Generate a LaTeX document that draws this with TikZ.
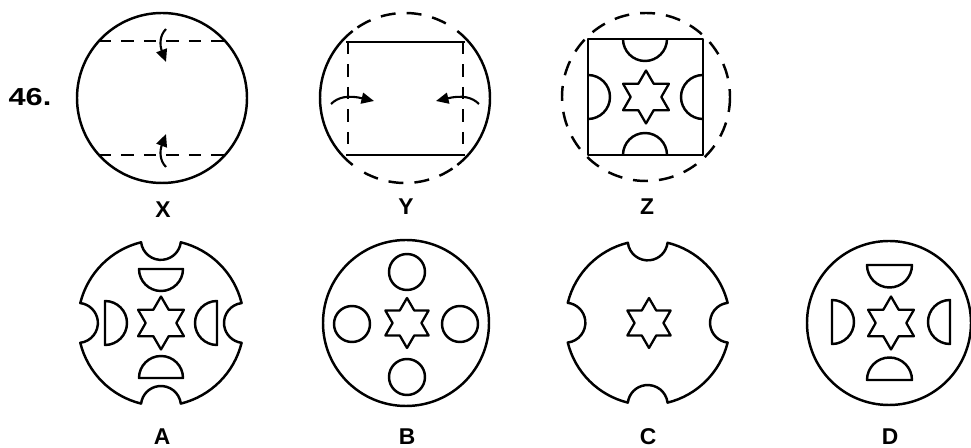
\documentclass[tikz,border=0pt]{standalone}
\usepackage{fontspec}
\setmainfont{Liberation Sans}
\usepackage{graphicx}
\usetikzlibrary{shapes.geometric, arrows.meta}

\begin{document}
\begin{tikzpicture}[
    x=0.02cm, y=-0.02cm,
    line width=1.4pt, line join=round,
    outline/.style={draw=black, line width=1.4pt},
    foldline/.style={line width=1.4pt, dash pattern=on 0.25cm off 0.2cm},
    dashcircle/.style={line width=1.4pt, dash pattern=on 0.3cm off 0.22cm},
    foldarrow/.style={line width=1.2pt, -{Triangle[length=0.25cm, width=0.22cm]}},
    hexstar/.style={draw, star, star points=6, star point ratio=1.73, minimum size=1.06cm, inner sep=0pt, line width=1.3pt},
    tag/.style={font=\fontsize{13}{15}\selectfont\bfseries, inner sep=0pt}
]
    \useasboundingbox (0,0) rectangle (971,448);

    % Question number
    \node (qnum) [tag, font=\fontsize{14}{16}\selectfont\bfseries] at (30,97) {\scalebox{1.25}[1]{46.}};

    % Figure X
    \draw[outline] (162,98) circle[radius=85];
    \draw[foldline] (99,41) -- (225,41);
    \draw[foldline] (99,155) -- (225,155);
    \draw[foldarrow] (166,29) .. controls (159,36) and (160,46) .. (166,62);
    \draw[foldarrow] (166,167) .. controls (159,160) and (160,150) .. (166,134);
    \node (labX) [tag] at (163,210) {X};

    % Figure Y
    \draw[outline] (405,98) ++(128:85) arc[start angle=128, end angle=232, radius=85];
    \draw[outline] (405,98) ++(-52:85) arc[start angle=-52, end angle=52, radius=85];
    \draw[dashcircle] (405,98) ++(56:85) arc[start angle=56, end angle=124, radius=85];
    \draw[dashcircle] (405,98) ++(236:85) arc[start angle=236, end angle=304, radius=85];
    \draw[outline] (346,42) -- (465,42);
    \draw[outline] (346,155) -- (465,155);
    \draw[foldline] (348,42) -- (348,155);
    \draw[foldline] (463,42) -- (463,155);
    \draw[foldarrow] (331,104) .. controls (338,97) and (348,95) .. (374,101);
    \draw[foldarrow] (479,104) .. controls (472,97) and (462,95) .. (436,101);
    \node (labY) [tag] at (406,207) {Y};

    % Figure Z
    \draw[dashcircle] (646,97) circle[radius=84];
    \draw[outline] (588,39) rectangle (703,155);
    \draw[outline] (623,39) arc[start angle=180, end angle=0, radius=22];
    \draw[outline] (623,155) arc[start angle=180, end angle=360, radius=22];
    \draw[outline] (588,75) arc[start angle=-90, end angle=90, radius=22];
    \draw[outline] (703,75) arc[start angle=270, end angle=90, radius=22];
    \node (starZ) [hexstar] at (646,97) {};
    \node (labZ) [tag] at (647,207) {Z};

    % Option A
    \draw[outline] (161,323) ++(13.8:83)
        \foreach \t in {90,180,270,360} {
            arc[start angle=\t-76.2, end angle=\t-13.8, radius=83]
            arc[start angle=\t+263.1, end angle=\t+96.9, radius=20]
        } -- cycle;
    \draw[outline] (139,269) arc[start angle=180, end angle=0, radius=22] -- cycle;
    \draw[outline] (139,378) arc[start angle=180, end angle=360, radius=22] -- cycle;
    \draw[outline] (105,301) arc[start angle=-90, end angle=90, radius=22] -- cycle;
    \draw[outline] (217,301) arc[start angle=270, end angle=90, radius=22] -- cycle;
    \node (starA) [hexstar] at (161,323) {};
    \node (labA) [tag] at (162,437) {A};

    % Option B
    \draw[outline] (406,323) circle[radius=83];
    \draw[outline] (407,272) circle[radius=18];
    \draw[outline] (407,377) circle[radius=18];
    \draw[outline] (352,324) circle[radius=18];
    \draw[outline] (460,324) circle[radius=18];
    \node (starB) [hexstar, minimum size=1.0cm] at (407,323) {};
    \node (labB) [tag] at (407,437) {B};

    % Option C
    \draw[outline] (648,323) ++(13.8:82)
        \foreach \t in {90,180,270,360} {
            arc[start angle=\t-76.2, end angle=\t-13.8, radius=82]
            arc[start angle=\t+263.1, end angle=\t+96.9, radius=20]
        } -- cycle;
    \node (starC) [hexstar, minimum size=1.0cm] at (649,323) {};
    \node (labC) [tag] at (648,437) {C};

    % Option D
    \draw[outline] (889,323) circle[radius=82];
    \draw[outline] (867,265) arc[start angle=180, end angle=0, radius=22.5] -- cycle;
    \draw[outline] (867,380) arc[start angle=180, end angle=360, radius=22.5] -- cycle;
    \draw[outline] (832,300) arc[start angle=-90, end angle=90, radius=22] -- cycle;
    \draw[outline] (950,300) arc[start angle=270, end angle=90, radius=22] -- cycle;
    \node (starD) [hexstar] at (891,323) {};
    \node (labD) [tag] at (890,437) {D};
\end{tikzpicture}
\end{document}
